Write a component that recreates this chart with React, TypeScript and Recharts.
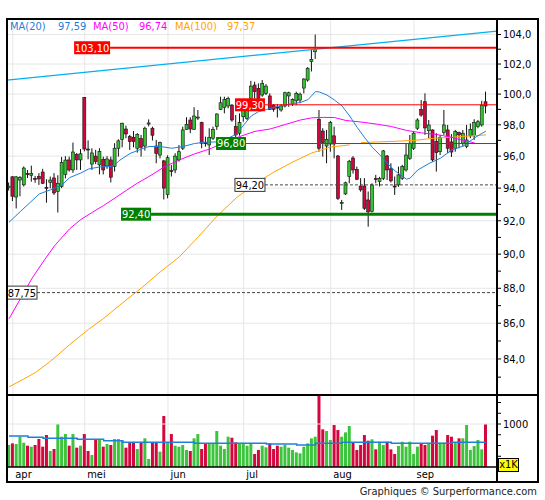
import {
  ComposedChart,
  Bar,
  Line,
  XAxis,
  YAxis,
  CartesianGrid,
  ReferenceLine,
  Cell,
} from "recharts";

// daily candles, index 0 = last day of march
const opens = [
  94.05, 94.7, 93.45, 94.5, 94.2, 94.9, 94.8, 94.6, 94.72, 95.0,
  94.05, 94.35, 94.63, 93.8, 94.1, 94.85, 95.76, 95.13, 96.1, 95.76,
  99.79, 96.45, 95.5, 96.0, 95.45, 95.8, 95.38, 95.76, 95.34, 96.5,
  97.07, 97.73, 97.24, 97.2, 96.5, 97.11, 96.64, 98.05, 97.78, 96.64,
  96.07, 95.7, 93.6, 95.1, 95.13, 95.76, 96.5, 97.71, 98.31, 97.71,
  98.45, 98.14, 96.85, 96.71, 97.14, 97.88, 99.0, 99.13, 99.22, 99.28,
  97.88, 97.46, 98.52, 98.42, 99.72, 100.6, 100.38, 99.94, 100.05, 99.88,
  99.28, 99.15, 98.96, 99.22, 99.88, 99.35, 99.56, 99.61, 100.4, 100.93,
  102.16, 102.83, 98.36, 97.6, 96.64, 96.77, 97.29, 96.01, 93.08, 93.64,
  94.72, 95.88, 95.17, 94.13, 94.13, 93.27, 92.58, 94.6, 94.4, 94.61,
  96.01, 95.2, 94.13, 94.2, 94.61, 95.13, 95.86, 96.5, 97.78, 99.0,
  99.5, 97.62, 97.67, 96.92, 96.28, 97.5, 97.67, 96.9, 96.5, 97.5,
  96.82, 96.6, 97.29, 97.29, 97.88, 97.99, 99.5,
];
const highs = [
  94.35, 94.75, 94.75, 94.75, 95.35, 95.13, 95.4, 94.76, 94.93, 95.2,
  94.55, 94.72, 94.93, 94.8, 95.95, 96.0, 95.97, 96.86, 96.2, 96.45,
  99.8, 97.0, 96.5, 96.4, 96.5, 95.97, 96.0, 95.97, 96.82, 97.07,
  98.14, 97.94, 97.35, 97.6, 97.46, 97.35, 97.88, 98.35, 97.88, 97.03,
  96.92, 95.76, 96.05, 95.45, 96.18, 96.7, 97.88, 98.49, 98.49, 99.14,
  98.96, 98.2, 97.24, 97.78, 97.88, 98.74, 99.83, 99.83, 99.83, 99.35,
  98.63, 98.74, 99.2, 99.61, 100.88, 100.82, 100.71, 100.93, 100.66, 100.05,
  99.35, 99.35, 99.35, 100.16, 100.16, 99.72, 100.16, 100.1, 101.05, 101.79,
  102.95, 104.0, 98.96, 97.78, 97.67, 98.25, 97.88, 96.07, 93.27, 94.4,
  95.76, 96.0, 95.34, 94.62, 94.62, 93.79, 94.3, 94.82, 94.7, 96.39,
  96.07, 95.55, 94.72, 95.34, 95.45, 96.82, 97.35, 97.56, 98.42, 99.61,
  100.05, 98.31, 97.7, 97.46, 97.35, 98.96, 97.99, 97.4, 97.67, 97.56,
  97.67, 97.99, 98.09, 98.36, 98.31, 99.56, 100.16,
];
const lows = [
  93.85, 93.2, 92.75, 93.5, 94.1, 94.63, 94.4, 94.33, 94.2, 94.25,
  93.1, 93.99, 93.58, 92.5, 94.0, 94.6, 95.03, 94.95, 95.13, 95.13,
  96.3, 95.8, 95.13, 95.5, 94.85, 94.85, 95.2, 94.35, 95.03, 95.97,
  96.56, 97.14, 96.39, 96.56, 96.22, 95.97, 96.35, 97.9, 96.99, 95.55,
  95.86, 93.3, 93.37, 94.72, 94.93, 95.65, 96.39, 97.67, 97.46, 97.67,
  98.31, 96.5, 96.6, 96.07, 97.03, 97.67, 98.96, 98.74, 99.07, 98.2,
  96.71, 97.3, 98.2, 98.31, 99.65, 99.72, 99.61, 99.83, 99.94, 98.96,
  98.85, 98.47, 98.85, 99.13, 99.17, 99.22, 99.28, 99.4, 100.05, 100.82,
  101.5, 102.34, 96.28, 95.97, 95.55, 96.28, 95.86, 93.27, 92.66, 93.58,
  94.3, 94.9, 94.5, 93.78, 92.66, 91.64, 92.5, 94.3, 94.1, 94.5,
  94.5, 94.35, 93.58, 94.08, 94.51, 95.03, 95.76, 96.39, 97.67, 98.52,
  97.35, 97.14, 95.65, 95.03, 96.07, 97.35, 96.2, 95.95, 96.28, 96.5,
  96.6, 96.5, 97.14, 97.03, 97.78, 97.88, 98.74,
];
const closes = [
  94.12, 93.5, 94.7, 94.65, 95.25, 94.85, 94.9, 94.55, 94.57, 94.3,
  94.0, 94.5, 93.7, 94.3, 95.6, 95.75, 95.13, 96.26, 95.76, 96.15,
  96.45, 96.4, 96.2, 95.65, 96.3, 95.13, 95.82, 94.68, 96.5, 96.97,
  98.1, 97.41, 96.92, 96.92, 97.37, 96.56, 97.78, 98.12, 97.33, 96.17,
  96.86, 94.0, 95.9, 95.05, 96.0, 96.28, 97.67, 98.03, 97.73, 98.57,
  98.5, 96.82, 96.8, 97.2, 97.71, 98.7, 99.43, 99.65, 99.72, 98.31,
  97.35, 98.14, 98.96, 99.09, 100.53, 100.16, 99.72, 100.71, 100.53, 99.0,
  99.0, 99.1, 99.22, 100.09, 100.09, 99.65, 100.05, 100.0, 101.0, 101.72,
  102.32, 102.99, 96.5, 96.86, 97.07, 98.14, 96.77, 93.37, 93.12, 94.33,
  95.68, 95.13, 94.55, 93.89, 92.76, 92.54, 94.2, 94.58, 94.6, 96.33,
  95.13, 94.45, 94.1, 94.82, 95.34, 96.07, 96.82, 97.46, 98.31, 98.63,
  97.8, 97.99, 95.76, 96.22, 97.2, 97.99, 96.5, 96.26, 97.56, 97.35,
  97.46, 97.03, 97.71, 98.14, 98.2, 99.28, 99.22,
];
// volume in thousands
const volumes = [
  512, 550, 535, 705, 565, 496, 473, 512, 651, 473,
  744, 372, 419, 1000, 705, 767, 496, 767, 450, 496,
  767, 372, 279, 628, 644, 473, 535, 512, 651, 651,
  628, 450, 565, 565, 419, 565, 667, 186, 565, 565,
  357, 1186, 565, 767, 496, 473, 512, 395, 372, 667,
  767, 419, 550, 550, 550, 837, 496, 419, 705, 681,
  574, 550, 550, 496, 550, 302, 395, 496, 458, 550,
  419, 496, 473, 512, 450, 395, 341, 318, 473, 550,
  667, 705, 1700, 876, 837, 628, 977, 860, 705, 806,
  953, 565, 395, 512, 744, 612, 644, 411, 588, 512,
  588, 411, 302, 488, 588, 473, 588, 302, 473, 550,
  512, 535, 729, 860, 565, 565, 744, 705, 565, 667,
  667, 977, 395, 488, 628, 411, 1000,
];

// moving averages: [day index, value]
const ma20Points = [
  [0, 91.91], [3, 92.56], [5, 92.99], [8, 93.64], [11, 93.9], [14, 94.2],
  [16, 94.65], [19, 94.94], [21, 95.19], [24, 95.32], [27, 95.35], [28, 95.44],
  [29, 95.7], [32, 96.17], [35, 96.45], [37, 96.61], [40, 96.61], [43, 96.5],
  [46, 96.61], [49, 96.8], [52, 96.89], [55, 96.9], [58, 97.16], [60, 97.38],
  [62, 97.99], [64, 98.57], [66, 98.86], [68, 98.99], [71, 99.19], [74, 99.34],
  [77, 99.45], [79, 99.64], [81, 100.17], [82, 100.14], [84, 99.94], [86, 99.61],
  [88, 99.22], [90, 98.57], [92, 97.83], [94, 97.16], [96, 96.56], [98, 96.07],
  [100, 95.54], [102, 95.07], [104, 94.73], [105, 94.55], [106, 94.62], [108, 95.13],
  [111, 95.54], [114, 95.87], [117, 96.39], [120, 96.64], [123, 97.16], [126, 97.6],
];
const ma50Points = [
  [0, 86.25], [3, 87.39], [6, 88.55], [9, 89.54], [12, 90.49], [16, 91.51],
  [19, 92.08], [22, 92.51], [25, 92.93], [28, 93.39], [31, 93.86], [34, 94.32],
  [37, 94.72], [41, 95.32], [45, 95.76], [49, 96.14], [53, 96.45], [57, 96.87],
  [61, 97.25], [65, 97.58], [69, 97.73], [73, 98.02], [77, 98.31], [80, 98.45],
  [83, 98.48], [86, 98.47], [89, 98.28], [93, 98.18], [97, 98.05], [101, 97.89],
  [105, 97.64], [109, 97.48], [113, 97.38], [117, 97.19], [120, 97.0], [123, 96.84],
];
const ma100Points = [
  [0, 82.47], [4, 82.91], [7, 83.25], [11, 83.88], [16, 84.79], [21, 85.65],
  [25, 86.27], [30, 87.16], [35, 88.02], [40, 88.96], [45, 89.84], [50, 91.03],
  [55, 92.29], [60, 93.39], [65, 94.26], [70, 95.0], [75, 95.63], [80, 96.2],
  [85, 96.58], [90, 96.71],
];
const ma100LatePoints = [
  [93, 96.86], [97, 96.9], [102, 96.94], [107, 97.0], [112, 97.13], [117, 97.2],
  [122, 97.29], [126, 97.35],
];
const volumeAvgSteps = [
  [0, 721], [5, 690], [9, 667], [18, 644], [25, 612], [30, 574], [49, 550],
  [68, 535], [76, 512], [81, 550], [88, 574], [101, 550], [117, 574], [126, 574],
];

const monthStarts = [1, 20, 42, 62, 85, 107];
const monthNames = ["apr", "mei", "jun", "jul", "aug", "sep"];
const priceTicks = [
  83, 84, 85, 86, 87, 88, 89, 90, 91, 92, 93, 94, 95, 96, 97, 98, 99, 100, 101, 102, 103, 104,
];
const gridPrices = [84, 86, 88, 90, 92, 94, 96, 98, 100, 102, 104];
const volumeTicks = [250, 500, 750, 1000, 1250, 1500];
const trendEnds = [100.93, 104.24];
const legendNames = ["MA(20)", "MA(50)", "MA(100)"];
const legendValues = ["97,59", "96,74", "97,37"];

const xDomain = [-0.53, 128.93];
const priceDomain = [82.03, 105.07];
const volumeDomain = [0, 1675];

const FONT = '"DejaVu Sans Condensed", "Liberation Sans", sans-serif';
const GREEN = "#33c433";
const RED = "#d2063c";
const MA20_COLOR = "#1f7fd9";
const MA50_COLOR = "#ff00ff";
const MA100_COLOR = "#ffa500";

const levels = [
  { value: 103.1, text: "103,10", from: 17.2, stroke: "#ff0000", width: 2, fill: "#ff0000", color: "#fff" },
  { value: 99.3, text: "99,30", from: 59.7, stroke: "#ff0000", width: 1, fill: "#ff0000", color: "#fff" },
  { value: 96.8, text: "96,80", from: 54.7, stroke: "#008000", width: 1, fill: "#008000", color: "#fff" },
  { value: 94.2, text: "94,20", from: 59.7, stroke: "#444", width: 1, dash: "3 2", fill: "#fff", border: "#333", color: "#000" },
  { value: 92.4, text: "92,40", from: 29.6, stroke: "#008000", width: 3, fill: "#008000", color: "#fff" },
  { value: 87.75, text: "87,75", from: xDomain[0], stroke: "#444", width: 1, dash: "3 2", fill: "#fff", border: "#333", color: "#000" },
];

const rows = opens.map((o, i) => ({
  i,
  o,
  h: highs[i],
  l: lows[i],
  c: closes[i],
  range: [lows[i], highs[i]],
  vol: volumes[i],
  up: closes[i] >= o,
  ma20: null as number | null,
  ma50: null as number | null,
  ma100: null as number | null,
  ma100b: null as number | null,
  vAvg: null as number | null,
}));
ma20Points.forEach(([k, v]) => (rows[k].ma20 = v));
ma50Points.forEach(([k, v]) => (rows[k].ma50 = v));
ma100Points.forEach(([k, v]) => (rows[k].ma100 = v));
ma100LatePoints.forEach(([k, v]) => (rows[k].ma100b = v));
volumeAvgSteps.forEach(([k, v]) => (rows[k].vAvg = v));

function Candle(props: any) {
  const { x, y, width, height, payload } = props;
  if (!payload) return null;
  const cx = x + width / 2;
  const top = Math.log(payload.h);
  const span = top - Math.log(payload.l);
  const at = (v: number) => (span > 0 ? y + (height * (top - Math.log(v))) / span : y);
  const yA = at(Math.max(payload.o, payload.c));
  const yB = at(Math.min(payload.o, payload.c));
  return (
    <g>
      <line x1={cx} x2={cx} y1={y} y2={y + height} stroke="#111" strokeWidth={1} />
      <rect
        x={cx - 1.5}
        y={yA}
        width={3}
        height={Math.max(yB - yA, 1)}
        fill={payload.up ? GREEN : RED}
        stroke="#111"
        strokeWidth={0.6}
      />
    </g>
  );
}

function levelShape(lv: any) {
  return (props: any) => {
    const { x1, y1, x2 } = props;
    const w = lv.text.length * 6;
    return (
      <g>
        <line
          x1={x1 + w}
          x2={x2}
          y1={y1}
          y2={y1}
          stroke={lv.stroke}
          strokeWidth={lv.width}
          strokeDasharray={lv.dash}
        />
        <rect x={x1} y={y1 - 6.5} width={w} height={13} fill={lv.fill} stroke={lv.border || "none"} />
        <text
          x={x1 + w / 2}
          y={y1}
          dy="0.36em"
          textAnchor="middle"
          fontSize={11}
          fontFamily={FONT}
          fill={lv.color}
        >
          {lv.text}
        </text>
      </g>
    );
  };
}

function MonthTick(props: any) {
  const { x, y, payload } = props;
  const k = monthStarts.indexOf(payload.value);
  return (
    <text x={x + 2.5} y={y + 11} fontSize={11} fontFamily={FONT} fill="#000">
      {monthNames[k]}
    </text>
  );
}

const priceLabel = (v: number) => (v % 2 === 0 ? v.toFixed(1).replace(".", ",") : "");

export default function App() {
  const legendLeft = [10, 58, 93, 139, 175, 227];
  const legendColors = [MA20_COLOR, MA50_COLOR, MA100_COLOR];
  return (
    <div
      style={{
        position: "absolute",
        left: 0,
        top: 0,
        width: 545,
        height: 500,
        background: "#fff",
        fontFamily: FONT,
      }}
    >
      <div style={{ position: "absolute", left: 0, top: 0 }}>
        <ComposedChart
          width={545}
          height={400}
          data={rows}
          margin={{ top: 19, right: 3, bottom: 5, left: 7 }}
        >
          <CartesianGrid stroke="#e6e6e6" horizontalValues={gridPrices} verticalValues={monthStarts} />
          <XAxis type="number" dataKey="i" domain={xDomain} allowDataOverflow hide ticks={monthStarts} />
          <YAxis
            orientation="right"
            scale="log"
            domain={priceDomain}
            allowDataOverflow
            ticks={priceTicks}
            interval={0}
            tickFormatter={priceLabel}
            width={45}
            axisLine={false}
            tickLine={{ stroke: "#000" }}
            tickSize={4}
            tickMargin={2}
            tick={{ fontSize: 11, fill: "#000", fontFamily: FONT }}
          />
          <Bar dataKey="range" barSize={3} shape={(p: any) => <Candle {...p} />} isAnimationActive={false} />
          <Line dataKey="ma100" stroke={MA100_COLOR} strokeWidth={1} dot={false} activeDot={false} connectNulls isAnimationActive={false} />
          <Line dataKey="ma100b" stroke={MA100_COLOR} strokeWidth={1} dot={false} activeDot={false} connectNulls isAnimationActive={false} />
          <Line dataKey="ma50" stroke={MA50_COLOR} strokeWidth={1} dot={false} activeDot={false} connectNulls isAnimationActive={false} />
          <Line dataKey="ma20" stroke={MA20_COLOR} strokeWidth={1} dot={false} activeDot={false} connectNulls isAnimationActive={false} />
          <ReferenceLine
            segment={[
              { x: xDomain[0], y: trendEnds[0] },
              { x: xDomain[1], y: trendEnds[1] },
            ]}
            stroke="#00b0f0"
            strokeWidth={1.2}
            ifOverflow="visible"
          />
          {levels.map((lv) => (
            <ReferenceLine
              key={lv.text}
              segment={[
                { x: lv.from, y: lv.value },
                { x: xDomain[1], y: lv.value },
              ]}
              ifOverflow="visible"
              shape={levelShape(lv)}
            />
          ))}
        </ComposedChart>
      </div>

      <div style={{ position: "absolute", left: 0, top: 380 }}>
        <ComposedChart
          width={545}
          height={110}
          data={rows}
          margin={{ top: 15, right: 3, bottom: 8, left: 7 }}
        >
          <CartesianGrid stroke="#e6e6e6" horizontal={false} verticalValues={monthStarts} />
          <ReferenceLine y={1000} stroke="#e6e6e6" />
          <XAxis
            type="number"
            dataKey="i"
            domain={xDomain}
            allowDataOverflow
            ticks={monthStarts}
            interval={0}
            height={15}
            tickSize={0}
            tickMargin={0}
            tickLine={false}
            axisLine={{ stroke: "#000", strokeWidth: 1.5 }}
            tick={<MonthTick />}
          />
          <YAxis
            orientation="right"
            domain={volumeDomain}
            allowDataOverflow
            ticks={volumeTicks}
            interval={0}
            tickFormatter={(v: number) => (v === 1000 ? "1000" : "")}
            width={45}
            axisLine={false}
            tickLine={{ stroke: "#000" }}
            tickSize={4}
            tickMargin={2}
            tick={{ fontSize: 11, fill: "#000", fontFamily: FONT }}
          />
          <Bar dataKey="vol" barSize={3} isAnimationActive={false}>
            {rows.map((r) => (
              <Cell key={r.i} fill={r.up ? "#3cc43c" : "#d4063e"} />
            ))}
          </Bar>
          <Line
            dataKey="vAvg"
            type="stepAfter"
            stroke={MA20_COLOR}
            strokeWidth={1.5}
            dot={false}
            activeDot={false}
            connectNulls
            isAnimationActive={false}
          />
        </ComposedChart>
      </div>

      {/* frame */}
      <div style={{ position: "absolute", left: 6, top: 18, width: 529, height: 461, border: "2px solid #000" }} />
      <div style={{ position: "absolute", left: 6, top: 394, width: 533, height: 2, background: "#000" }} />
      <div style={{ position: "absolute", left: 496, top: 18, width: 2, height: 465, background: "#000" }} />

      {legendNames.map((n, k) => (
        <span key={n}>
          <span style={{ position: "absolute", left: legendLeft[2 * k], top: 20, fontSize: 11, color: legendColors[k], lineHeight: "13px" }}>
            {n}
          </span>
          <span style={{ position: "absolute", left: legendLeft[2 * k + 1], top: 20, fontSize: 11, color: legendColors[k], lineHeight: "13px" }}>
            {legendValues[k]}
          </span>
        </span>
      ))}

      <div
        style={{
          position: "absolute",
          left: 498,
          top: 458,
          width: 19,
          height: 12,
          background: "#ffff00",
          border: "1px solid #000",
          fontSize: 11,
          lineHeight: "12px",
          textAlign: "center",
        }}
      >
        x1K
      </div>
      <div style={{ position: "absolute", right: 8, top: 485, fontSize: 11, color: "#222", lineHeight: "13px" }}>
        Graphiques © Surperformance.com
      </div>
    </div>
  );
}
